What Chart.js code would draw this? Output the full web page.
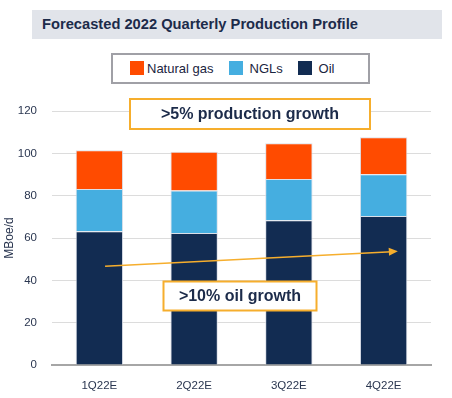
<!DOCTYPE html>
<html>
<head>
<meta charset="utf-8">
<script src="https://cdn.jsdelivr.net/npm/chart.js@4.4.0/dist/chart.umd.min.js"></script>
<style>
  html, body { margin: 0; padding: 0; background: #fff; }
  body { width: 452px; height: 398px; position: relative; overflow: hidden; font-family: "Liberation Sans", Arial, sans-serif; }
  #title {
    position: absolute; left: 32px; top: 10px; width: 410px; height: 29px;
    background: #e1e4ea; color: #1c2b4a; font-weight: bold; font-size: 14.7px;
    line-height: 29px; padding-left: 10px; box-sizing: border-box;
  }
  #legend {
    position: absolute; left: 111px; top: 53px; width: 259px; height: 31px;
    border: 2px solid #a0a0a6; box-sizing: border-box;
    font-size: 13px; color: #1a2440;
  }
  .item { position: absolute; top: 5px; height: 16px; display: flex; align-items: center; }
  .sw { width: 14px; height: 14px; }
  .item span { margin-left: 3px; }
  canvas { position: absolute; left: 0; top: 0; }
</style>
</head>
<body>
<div id="title">Forecasted 2022 Quarterly Production Profile</div>
<div id="legend"></div>
<canvas id="chart" width="452" height="398"></canvas>
<script>
const quarters = ['1Q22E', '2Q22E', '3Q22E', '4Q22E'];
const oil = [63.2, 62.4, 68.4, 70.4];
const ngls = [20.0, 20.1, 19.5, 19.7];
const naturalGas = [18.3, 18.3, 16.9, 17.5];
const yTicks = [0, 20, 40, 60, 80, 100, 120];

const colors = { gas: '#ff4b00', ngl: '#45aee0', oil: '#122c52', accent: '#f6ae2d' };
const tickColor = '#2a3650';

// legend (same order as the reference: gas, NGLs, oil)
const legendItems = [['Natural gas', colors.gas, 17], ['NGLs', colors.ngl, 116], [' Oil', colors.oil, 185]];
document.getElementById('legend').innerHTML = legendItems
  .map(([name, c, left]) => `<div class="item" style="left:${left}px"><div class="sw" style="background:${c}"></div><span>${name === ' Oil' ? '&nbsp;Oil' : name === 'NGLs' ? '&nbsp;NGLs' : name}</span></div>`)
  .join('');

// arrow for oil trend, in data units (category index, MBoe/d)
const arrowFrom = [0.06, 46.6];
const arrowTo = [3.15, 53.7];

const annotations = {
  id: 'annotations',
  afterDatasetsDraw(chart) {
    const { ctx, scales: { x, y } } = chart;
    ctx.save();

    // trend arrow
    const x1 = x.getPixelForValue(arrowFrom[0]), y1 = y.getPixelForValue(arrowFrom[1]);
    const x2 = x.getPixelForValue(arrowTo[0]), y2 = y.getPixelForValue(arrowTo[1]);
    const ang = Math.atan2(y2 - y1, x2 - x1);
    ctx.strokeStyle = colors.accent;
    ctx.fillStyle = colors.accent;
    ctx.lineWidth = 1.5;
    ctx.beginPath();
    ctx.moveTo(x1, y1);
    ctx.lineTo(x2 - 6 * Math.cos(ang), y2 - 6 * Math.sin(ang));
    ctx.stroke();
    ctx.beginPath();
    ctx.moveTo(x2, y2);
    ctx.lineTo(x2 - 9 * Math.cos(ang) + 4 * Math.sin(ang), y2 - 9 * Math.sin(ang) - 4 * Math.cos(ang));
    ctx.lineTo(x2 - 9 * Math.cos(ang) - 4 * Math.sin(ang), y2 - 9 * Math.sin(ang) + 4 * Math.cos(ang));
    ctx.closePath();
    ctx.fill();

    // callout boxes
    const box = (cx, cy, w, h, text) => {
      ctx.fillStyle = '#fff';
      ctx.fillRect(cx - w / 2, cy - h / 2, w, h);
      ctx.strokeStyle = colors.accent;
      ctx.lineWidth = 2;
      ctx.strokeRect(cx - w / 2, cy - h / 2, w, h);
      ctx.fillStyle = '#1c2b4a';
      ctx.font = 'bold 16px "Liberation Sans", Arial, sans-serif';
      ctx.textAlign = 'center';
      ctx.textBaseline = 'middle';
      ctx.fillText(text, cx, cy + 1);
    };
    box(250, 114, 240, 30, '>5% production growth');
    box(240, 296, 153, 29, '>10% oil growth');
    ctx.restore();
  }
};

const tickFont = { size: 11.5, family: 'Liberation Sans' };

new Chart(document.getElementById('chart'), {
  type: 'bar',
  data: {
    labels: quarters,
    datasets: [
      { label: 'Oil', data: oil, backgroundColor: colors.oil },
      { label: 'NGLs', data: ngls, backgroundColor: colors.ngl },
      { label: 'Natural gas', data: naturalGas, backgroundColor: colors.gas },
    ].map(d => ({ ...d, borderColor: 'rgba(215,220,230,0.9)', borderWidth: 1, categoryPercentage: 1, barPercentage: 0.5 })),
  },
  options: {
    responsive: false,
    animation: false,
    layout: { padding: { top: 111, left: 0, right: 21, bottom: 0 } },
    plugins: { legend: { display: false }, tooltip: { enabled: false } },
    scales: {
      x: {
        stacked: true,
        grid: { display: false },
        border: { color: '#a6a6a6', width: 2 },
        ticks: { color: tickColor, font: tickFont, padding: 6 },
        afterFit: axis => { axis.height = 33; },
      },
      y: {
        stacked: true,
        min: 0,
        max: 120,
        afterBuildTicks: axis => { axis.ticks = yTicks.map(v => ({ value: v })); },
        grid: { color: '#dcdcdc', drawTicks: false },
        border: { display: false },
        ticks: { color: tickColor, font: tickFont, padding: 15 },
        title: { display: true, text: 'MBoe/d', color: tickColor, font: { size: 12, family: 'Liberation Sans' }, padding: { top: 2, bottom: 0 } },
        afterFit: axis => { axis.width = 52; },
      },
    },
  },
  plugins: [annotations],
});
</script>
</body>
</html>
